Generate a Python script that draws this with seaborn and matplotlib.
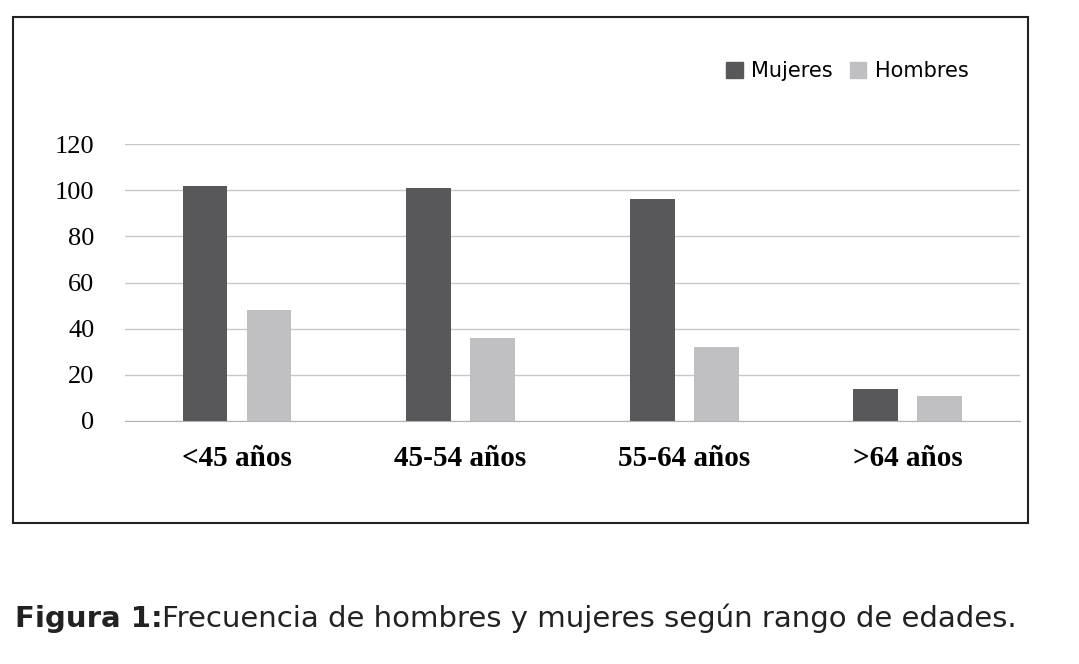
import matplotlib
matplotlib.use("Agg")
import matplotlib.pyplot as plt
import matplotlib.patches as mpatches
import pandas as pd
import seaborn as sns

categories = ["<45 años", "45-54 años", "55-64 años", ">64 años"]
mujeres = [102, 101, 96, 14]
hombres = [48, 36, 32, 11]
yticks = [0, 20, 40, 60, 80, 100, 120]

df = pd.DataFrame({
    "Rango": categories * 2,
    "Sexo": ["Mujeres"] * 4 + ["Hombres"] * 4,
    "Frecuencia": mujeres + hombres,
})

fig = plt.figure(figsize=(10.79, 6.64), dpi=100)
ax = fig.add_axes([0.116, 0.366, 0.829, 0.417])
sns.barplot(data=df, x="Rango", y="Frecuencia", hue="Sexo",
            palette={"Mujeres": "#58585a", "Hombres": "#c0c0c3"},
            width=0.572, gap=0.3, ax=ax, legend=False)
ax.set_xlim(-0.5, 3.5)
ax.set_ylim(0, 120)
ax.set_yticks(yticks)
ax.yaxis.grid(True, color="#c8c8c8", linewidth=1)
ax.set_axisbelow(True)
for s in ["top", "right", "left"]:
    ax.spines[s].set_visible(False)
ax.spines["bottom"].set_color("#b0b0b0")
ax.tick_params(length=0)
ax.set_xlabel("")
ax.set_ylabel("")
for lab in ax.get_yticklabels():
    lab.set_fontfamily("Liberation Serif")
    lab.set_fontsize(19)
for lab in ax.get_xticklabels():
    lab.set_fontfamily("Liberation Serif")
    lab.set_fontsize(21)
    lab.set_fontweight("bold")
ax.tick_params(axis="x", pad=17)
ax.tick_params(axis="y", pad=22)

handles = [mpatches.Patch(color="#58585a", label="Mujeres"),
           mpatches.Patch(color="#c0c0c3", label="Hombres")]
fig.legend(handles=handles, loc="center right", bbox_to_anchor=(0.915, 0.893),
           ncol=2, frameon=False, prop={"family": "DejaVu Sans", "size": 15},
           handlelength=0.8, handleheight=0.8, handletextpad=0.4, columnspacing=0.8)

fig.patches.append(mpatches.Rectangle((13 / 1079, 0.2123), 1015 / 1079, 0.762,
                                      transform=fig.transFigure, fill=False,
                                      edgecolor="#222222", linewidth=1.5))

fig.text(0.014, 0.055, "Figura 1:", fontsize=21, fontweight="bold", color="#222222")
fig.text(0.15, 0.055, "Frecuencia de hombres y mujeres según rango de edades.",
         fontsize=21, color="#222222")

fig.savefig("out.png", dpi=100)
